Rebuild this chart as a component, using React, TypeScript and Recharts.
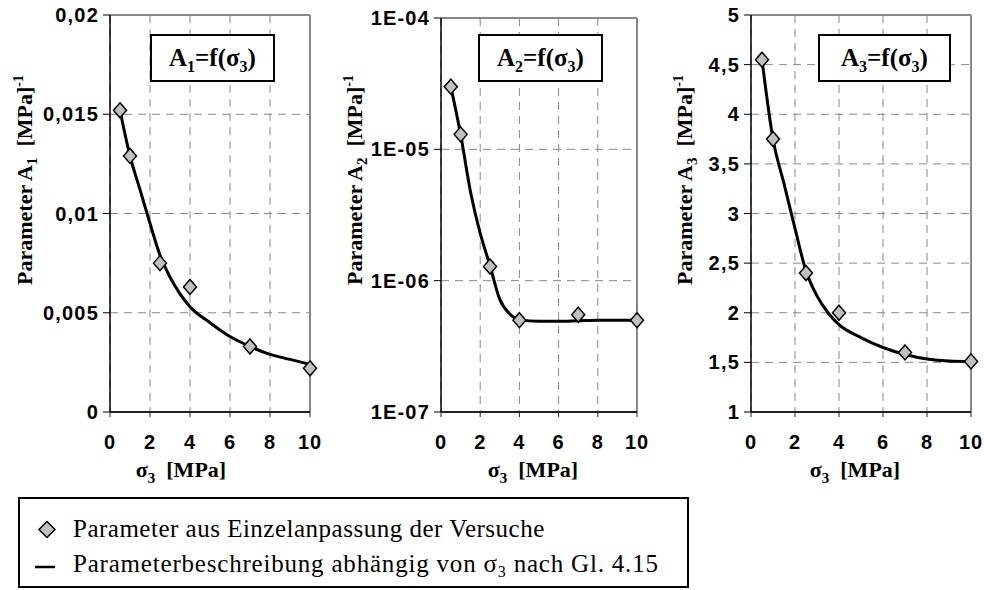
import React from 'react';
import { ComposedChart, Line, Scatter, XAxis, YAxis, CartesianGrid, ReferenceLine } from 'recharts';

// ---------- data ----------
const xTicks = [0, 2, 4, 6, 8, 10];

const pointsX = [0.5, 1, 2.5, 4, 7, 10];
const a1Points = [0.0152, 0.0129, 0.0075, 0.0063, 0.0033, 0.0022];
const a2Points = [3.0e-5, 1.3e-5, 1.28e-6, 5.0e-7, 5.5e-7, 5.0e-7];
const a3Points = [4.55, 3.75, 2.4, 2.0, 1.6, 1.51];

const curve1X = [0.5, 1, 1.5, 2, 2.5, 3, 4, 5, 6, 7, 8, 9, 10];
const curve1Y = [0.0152, 0.0129, 0.0112, 0.0095, 0.0079, 0.0068, 0.0053, 0.0045, 0.0038, 0.0033, 0.0029, 0.00265, 0.0024];

const curve2X = [0.5, 1, 1.5, 2, 2.5, 3, 3.5, 4, 5, 6, 7, 8, 9, 10];
const curve2Y = [3.0e-5, 1.3e-5, 4.8e-6, 2.3e-6, 1.3e-6, 7.2e-7, 5.6e-7, 5.05e-7, 4.9e-7, 4.9e-7, 4.95e-7, 5.0e-7, 5.0e-7, 5.0e-7];

const curve3X = [0.5, 1, 1.5, 2, 2.5, 3, 3.5, 4, 5, 6, 7, 8, 9, 10];
const curve3Y = [4.55, 3.75, 3.3, 2.85, 2.42, 2.17, 2.0, 1.88, 1.75, 1.65, 1.58, 1.535, 1.515, 1.51];

const a1Ticks = [0, 0.005, 0.01, 0.015, 0.02];
const a1TickLabels = ['0', '0,005', '0,01', '0,015', '0,02'];
const a2Ticks = [1e-7, 1e-6, 1e-5, 1e-4];
const a2TickLabels = ['1E-07', '1E-06', '1E-05', '1E-04'];
const a3Ticks = [1, 1.5, 2, 2.5, 3, 3.5, 4, 4.5, 5];
const a3TickLabels = ['1', '1,5', '2', '2,5', '3', '3,5', '4', '4,5', '5'];

const toRows = (xs: number[], ys: number[]) => xs.map((x, i) => ({ x, y: ys[i] }));

// ---------- styles ----------
const SERIF = "'Liberation Serif', 'Times New Roman', serif";
const SANS = "'Liberation Sans', Arial, sans-serif";
const xTickStyle = { fill: '#000', fontSize: 20, fontWeight: 700, fontFamily: SANS, letterSpacing: 1 };
const yTickStyle = { fill: '#000', fontSize: 20, fontWeight: 700, fontFamily: SANS, letterSpacing: 1.2 };

const Diamond = (props: any) => {
  const { cx, cy } = props;
  if (cx == null || cy == null) return null;
  return (
    <path
      d={`M${cx},${cy - 7.5} L${cx + 6.5},${cy} L${cx},${cy + 7.5} L${cx - 6.5},${cy} Z`}
      fill="#c0c0c0"
      stroke="#000"
      strokeWidth={1.5}
    />
  );
};

const XTitle = (props: any) => {
  const { viewBox, dx } = props;
  if (!viewBox) return null;
  const cx = viewBox.x + viewBox.width / 2 + (dx || 0);
  const y = viewBox.y + 65;
  return (
    <text x={cx} y={y} textAnchor="middle" fontFamily={SERIF} fontWeight={700} fontSize={22} fill="#000">
      σ<tspan dy={6} fontSize={15}>3</tspan>
      <tspan dy={-6}>{'\u00a0\u00a0[MPa]'}</tspan>
    </text>
  );
};

const YTitle = (props: any) => {
  const { bx, cy, sub } = props;
  return (
    <text
      x={bx}
      y={cy}
      transform={`rotate(-90, ${bx}, ${cy})`}
      textAnchor="middle"
      fontFamily={SERIF}
      fontWeight={700}
      fontSize={22}
      fill="#000"
    >
      Parameter A<tspan dy={5} fontSize={15}>{sub}</tspan>
      <tspan dy={-5} fontSize={22}>{'\u00a0\u00a0[MPa]'}</tspan>
      <tspan dy={-9} fontSize={14}>-1</tspan>
    </text>
  );
};

type PanelProps = {
  left: number;
  width: number;
  margin: { top: number; right: number; left: number; bottom: number };
  curve: { x: number; y: number }[];
  points: { x: number; y: number }[];
  yDomain: [number, number];
  yTicks: number[];
  yLabels: string[];
  yScale: 'linear' | 'log';
  sub: string;
  xTitleDx: number;
  box: { left: number; width: number };
};

function Panel(p: PanelProps) {
  return (
    <div style={{ position: 'absolute', left: p.left, top: 0, width: p.width, height: 490 }}>
      <ComposedChart width={p.width} height={490} margin={p.margin}>
        <CartesianGrid stroke="#888" strokeDasharray="8 6" strokeWidth={1} />
        <XAxis
          dataKey="x"
          type="number"
          domain={[0, 10]}
          ticks={xTicks}
          interval={0}
          height={30}
          tickSize={5}
          tickMargin={18}
          axisLine={{ stroke: '#222', strokeWidth: 2 }}
          tickLine={{ stroke: '#222', strokeWidth: 1 }}
          tick={xTickStyle}
          label={<XTitle dx={p.xTitleDx} />}
        />
        <YAxis
          dataKey="y"
          type="number"
          scale={p.yScale}
          domain={p.yDomain}
          ticks={p.yTicks}
          interval={0}
          width={80}
          tickSize={7}
          tickMargin={4}
          axisLine={{ stroke: '#000', strokeWidth: 1.5 }}
          tickLine={{ stroke: '#000', strokeWidth: 1 }}
          tick={yTickStyle}
          tickFormatter={(v: number, i: number) => p.yLabels[i] ?? String(v)}
          label={<YTitle bx={32} cy={180} sub={p.sub} />}
        />
        <ReferenceLine x={10} stroke="#888" strokeWidth={2} />
        <ReferenceLine y={p.yDomain[1]} stroke="#888" strokeWidth={2} />
        <Line
          data={p.curve}
          dataKey="y"
          type="monotone"
          stroke="#000"
          strokeWidth={3}
          dot={false}
          activeDot={false}
          isAnimationActive={false}
        />
        <Scatter data={p.points} dataKey="y" shape={<Diamond />} isAnimationActive={false} />
      </ComposedChart>
      <div
        style={{
          position: 'absolute',
          left: p.box.left,
          top: 34,
          width: p.box.width,
          height: 48,
          boxSizing: 'border-box',
          border: '2px solid #000',
          background: '#fff',
          display: 'flex',
          alignItems: 'center',
          justifyContent: 'center',
          fontFamily: SERIF,
          fontWeight: 700,
          fontSize: 25,
          lineHeight: '25px',
          color: '#000',
        }}
      >
        <span style={{ position: 'relative', top: 1 }}>
          A<span style={{ fontSize: 16, position: 'relative', top: 6 }}>{p.sub}</span>=f(σ
          <span style={{ fontSize: 16, position: 'relative', top: 6 }}>3</span>)
        </span>
      </div>
    </div>
  );
}

export default function App() {
  return (
    <div style={{ position: 'absolute', left: 0, top: 0, width: 984, height: 590, background: '#fff', overflow: 'hidden' }}>
      <Panel
        left={0}
        width={330}
        margin={{ top: 15, right: 20, left: 30, bottom: 48 }}
        curve={toRows(curve1X, curve1Y)}
        points={toRows(pointsX, a1Points)}
        yDomain={[0, 0.02]}
        yTicks={a1Ticks}
        yLabels={a1TickLabels}
        yScale="linear"
        sub="1"
        xTitleDx={-29}
        box={{ left: 150, width: 125 }}
      />
      <Panel
        left={330}
        width={330}
        margin={{ top: 18, right: 23, left: 31, bottom: 48 }}
        curve={toRows(curve2X, curve2Y)}
        points={toRows(pointsX, a2Points)}
        yDomain={[1e-7, 1e-4]}
        yTicks={a2Ticks}
        yLabels={a2TickLabels}
        yScale="log"
        sub="2"
        xTitleDx={-6}
        box={{ left: 148, width: 125 }}
      />
      <Panel
        left={660}
        width={324}
        margin={{ top: 15, right: 13, left: 11, bottom: 48 }}
        curve={toRows(curve3X, curve3Y)}
        points={toRows(pointsX, a3Points)}
        yDomain={[1, 5]}
        yTicks={a3Ticks}
        yLabels={a3TickLabels}
        yScale="linear"
        sub="3"
        xTitleDx={-6}
        box={{ left: 158, width: 133 }}
      />
      <svg style={{ position: 'absolute', left: 18, top: 497 }} width={671} height={91}>
        <rect x={1} y={1} width={669} height={89} fill="#fff" stroke="#000" strokeWidth={2} />
        <path d="M29,24.5 L37,32.5 L29,40.5 L21,32.5 Z" fill="#c0c0c0" stroke="#000" strokeWidth={1.5} />
        <text x={55} y={40} fontFamily={SERIF} fontSize={25} letterSpacing={0.5} fill="#000">
          Parameter aus Einzelanpassung der Versuche
        </text>
        <line x1={17} x2={37} y1={70} y2={70} stroke="#000" strokeWidth={2.5} />
        <text x={55} y={75} fontFamily={SERIF} fontSize={25} letterSpacing={0.8} fill="#000">
          {'Parameterbeschreibung abhängig von\u00a0σ'}
          <tspan dy={5} fontSize={16}>3</tspan>
          <tspan dy={-5}>{'\u00a0nach Gl. 4.15'}</tspan>
        </text>
      </svg>
    </div>
  );
}
